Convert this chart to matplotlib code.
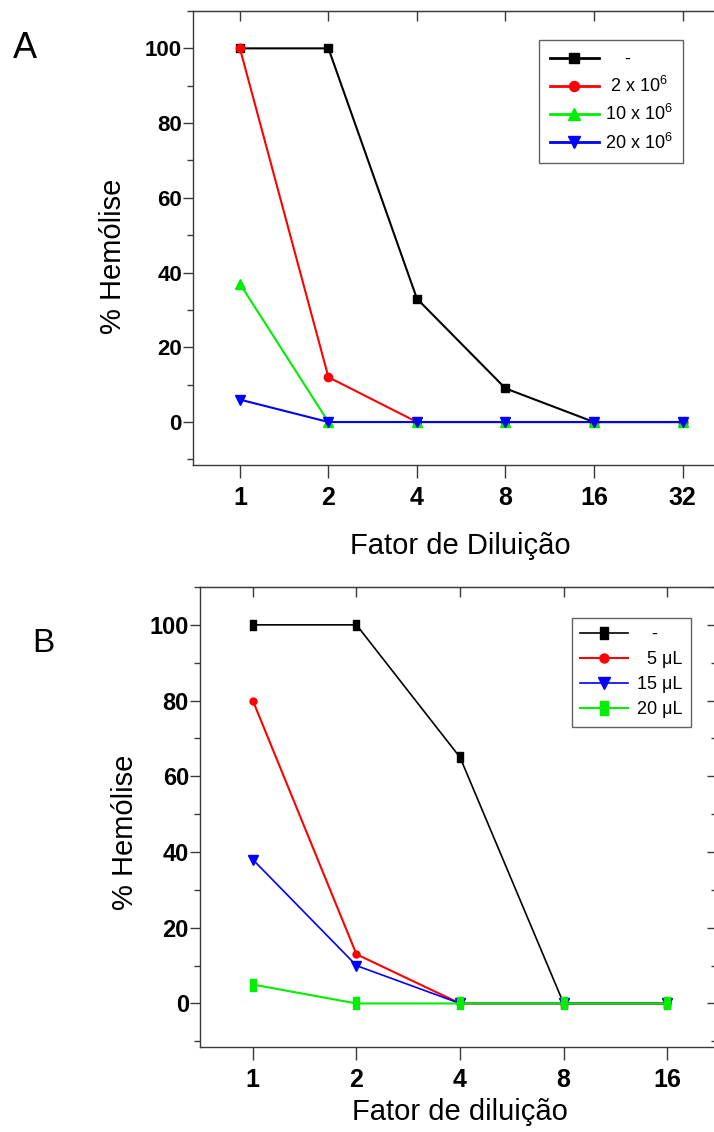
import matplotlib
matplotlib.use("Agg")
import matplotlib.pyplot as plt
from matplotlib.ticker import MultipleLocator, NullFormatter
from matplotlib.path import Path
import numpy as np

plt.rcParams['font.family'] = ['Liberation Sans', 'DejaVu Sans']
plt.rcParams['mathtext.fontset'] = 'custom'
plt.rcParams['mathtext.rm'] = 'Liberation Sans'
plt.rcParams['mathtext.it'] = 'Liberation Sans'

NARROW = ['Liberation Sans Narrow', 'Liberation Sans', 'DejaVu Sans']

# panel A: diluicao do soro
fatores_a = ['1', '2', '4', '8', '16', '32']
a_controle = [100, 100, 33, 9, 0, 0]
a_2e6 = [100, 12, 0, 0, 0, 0]
a_10e6 = [37, 0, 0, 0, 0, 0]
a_20e6 = [6, 0, 0, 0, 0, 0]
legenda_a = ['    -', ' 2 x 10$^6$', '10 x 10$^6$', '20 x 10$^6$']

# panel B
fatores_b = ['1', '2', '4', '8', '16']
b_controle = [100, 100, 65, 0, 0]
b_5ul = [80, 13, 0, 0, 0]
b_15ul = [38, 10, 0, 0, 0]
b_20ul = [5, 0, 0, 0, 0]
legenda_b = ['   -', '  5 \u03bcL', '15 \u03bcL', '20 \u03bcL']

W, H = 714, 1132
fig = plt.figure(figsize=(W / 100, H / 100), dpi=100)


def px_axes(l, t, r, b):
    return fig.add_axes([l / W, 1 - b / H, (r - l) / W, (b - t) / H])


tall_rect = Path([(-0.3, -0.5), (0.3, -0.5), (0.3, 0.5), (-0.3, 0.5), (-0.3, -0.5)],
                 [Path.MOVETO, Path.LINETO, Path.LINETO, Path.LINETO, Path.CLOSEPOLY])

spine_col = '#3a3a3a'


def style_axes(ax, n, xlim, right_ticks, tickfont, tickweight, ysize, xsize):
    ax.set_xlim(*xlim)
    ax.set_ylim(-11.5, 110)
    ax.set_xticks(np.arange(n))
    ax.yaxis.set_major_locator(MultipleLocator(20))
    ax.yaxis.set_minor_locator(MultipleLocator(10))
    for s in ax.spines.values():
        s.set_color(spine_col)
        s.set_linewidth(1.0)
    ax.spines['right'].set_visible(right_ticks)
    ax.tick_params(axis='y', which='major', direction='out', length=7, width=1, color=spine_col, pad=1)
    ax.tick_params(axis='y', which='minor', direction='out', length=4, width=1, color=spine_col)
    ax.tick_params(axis='x', which='major', direction='out', length=9, width=1, color=spine_col, pad=6)
    for lab in ax.get_yticklabels():
        lab.set_family(tickfont)
        lab.set_weight(tickweight)
        lab.set_fontsize(ysize)
    for lab in ax.get_xticklabels():
        lab.set_family(tickfont)
        lab.set_weight(tickweight)
        lab.set_fontsize(xsize)
    top = ax.secondary_xaxis('top')
    top.set_xticks(np.arange(n))
    top.xaxis.set_major_formatter(NullFormatter())
    top.tick_params(direction='in', length=7, width=1, color=spine_col)
    top.spines['top'].set_color(spine_col)
    if right_ticks:
        rt = ax.secondary_yaxis('right')
        rt.yaxis.set_major_locator(MultipleLocator(20))
        rt.yaxis.set_minor_locator(MultipleLocator(10))
        rt.yaxis.set_major_formatter(NullFormatter())
        rt.tick_params(which='major', direction='in', length=7, width=1, color=spine_col)
        rt.tick_params(which='minor', direction='in', length=4, width=1, color=spine_col)
        rt.spines['right'].set_color(spine_col)


# ---------- A ----------
axA = px_axes(193, 11, 725, 465)
xa = np.arange(len(fatores_a))
axA.plot(xa, a_controle, '-s', color='black', lw=1.5, ms=6, label=legenda_a[0])
axA.plot(xa, a_2e6, '-o', color='#ff0000', lw=1.5, ms=6, label=legenda_a[1])
axA.plot(xa, a_10e6, '-^', color='#00ee00', lw=1.5, ms=7, label=legenda_a[2])
axA.plot(xa, a_20e6, '-v', color='#0000ff', lw=1.5, ms=7, label=legenda_a[3])
axA.set_xticks(xa)
axA.set_xticklabels(fatores_a)
style_axes(axA, len(fatores_a), (-0.53, 5.48), False, ['Liberation Sans', 'DejaVu Sans'], 'bold', 16, 18)
axA.set_ylabel('% Hemólise', fontsize=21, va='center')
axA.yaxis.set_label_coords(-0.150, 0.46)
axA.set_xlabel('Fator de Diluição', fontsize=21, va='center')
axA.xaxis.set_label_coords(0.502, -0.178)
legA = axA.legend(loc='upper left', bbox_to_anchor=((539 - 193) / 532, (465 - 40) / 454),
                  fontsize=13, handlelength=2.7, frameon=True, fancybox=False,
                  borderpad=0.6, labelspacing=0.45, handletextpad=0.35, borderaxespad=0,
                  markerscale=1.2)
legA.get_frame().set_edgecolor(spine_col)
legA.get_frame().set_linewidth(1.0)
for ln in legA.get_lines():
    ln.set_linewidth(2)
fig.text(25 / W, 1 - 48 / H, 'A', fontsize=26, ha='center', va='center')

# ---------- B ----------
axB = px_axes(200, 587, 717, 1047)
xb = np.arange(len(fatores_b))
axB.plot(xb, b_controle, '-', color='black', lw=1.2, marker=tall_rect, ms=7, label=legenda_b[0])
axB.plot(xb, b_5ul, '-o', color='#ff0000', lw=1.5, ms=5, label=legenda_b[1])
axB.plot(xb, b_15ul, '-v', color='#0000ff', lw=1.2, ms=7, label=legenda_b[2])
axB.plot(xb, b_20ul, '-', color='#00ee00', lw=1.5, marker=tall_rect, ms=8, label=legenda_b[3])
axB.set_xticks(xb)
axB.set_xticklabels(fatores_b)
style_axes(axB, len(fatores_b), (-0.51, 4.48), True, NARROW, 'bold', 17, 18)
axB.set_ylabel('% Hemólise', fontsize=21, va='center')
axB.yaxis.set_label_coords(-0.145, 0.467)
axB.set_xlabel('Fator de diluição', fontsize=21, va='center', family=NARROW)
axB.xaxis.set_label_coords(0.503, -0.141)
legB = axB.legend(loc='upper left', bbox_to_anchor=((572 - 200) / 517, (1047 - 618) / 460),
                  prop={'family': NARROW, 'size': 13}, handlelength=2.65, frameon=True, fancybox=False,
                  borderpad=0.45, labelspacing=0.45, handletextpad=0.5, borderaxespad=0,
                  markerscale=1.3)
legB.get_frame().set_edgecolor(spine_col)
legB.get_frame().set_linewidth(1.0)
fig.text(43 / W, 1 - 644 / H, 'B', fontsize=24, ha='center', va='center')

fig.savefig('out.png', dpi=100)
